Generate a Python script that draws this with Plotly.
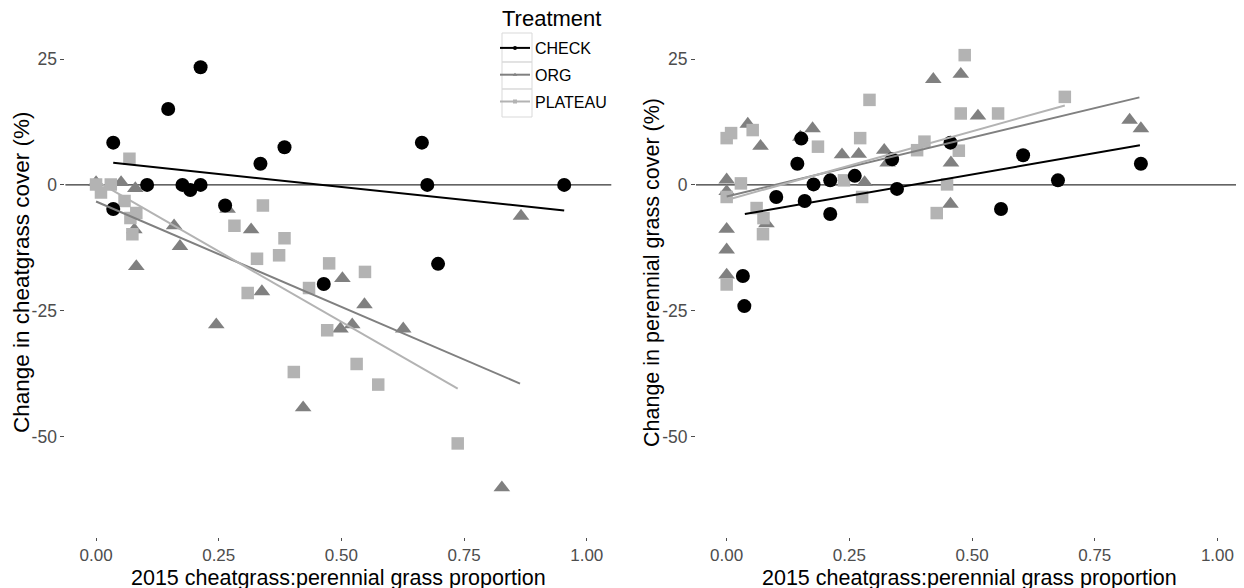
import plotly.graph_objects as go

W, H = 1244, 588
OFF = 8  # the page body adds an 8px margin around the figure


def fx(px):
    return (px - OFF) / W


def fy(py):
    return 1 - (py - OFF) / H


# ---- left panel: change in cheatgrass cover ----
cg_check_x = [0.035, 0.035, 0.104, 0.147, 0.176, 0.192, 0.213, 0.213, 0.263, 0.335, 0.384, 0.464, 0.664, 0.675, 0.697, 0.954]
cg_check_y = [8.4, -4.8, 0.0, 15.1, 0.0, -1.0, 0.0, 23.4, -4.1, 4.2, 7.5, -19.7, 8.4, 0.0, -15.7, 0.0]

cg_org_x = [0.000, 0.051, 0.080, 0.078, 0.082, 0.159, 0.171, 0.268, 0.316, 0.338, 0.502, 0.547, 0.866,
            0.245, 0.498, 0.522, 0.626, 0.422, 0.827]
cg_org_y = [0.5, 0.5, -0.7, -8.9, -16.2, -8.1, -12.2, -4.8, -8.9, -21.2, -18.6, -23.8, -6.2,
            -27.8, -28.6, -27.8, -28.6, -44.3, -60.2]

cg_plat_x = [0.068, 0.000, 0.030, 0.010, 0.058, 0.082, 0.070, 0.074, 0.282, 0.340, 0.384, 0.373, 0.328,
             0.475, 0.548, 0.434, 0.309, 0.471, 0.531, 0.403, 0.575, 0.737]
cg_plat_y = [5.2, 0.1, 0.1, -1.5, -3.2, -5.6, -6.6, -9.8, -8.1, -4.1, -10.6, -14.0, -14.7,
             -15.6, -17.3, -20.5, -21.5, -28.9, -35.6, -37.2, -39.7, -51.4]

# fitted lines (end points)
cg_fit = {
    "CHECK": ([0.035, 0.954], [4.4, -5.1]),
    "ORG": ([0.000, 0.864], [-3.3, -39.5]),
    "PLATEAU": ([0.000, 0.737], [0.8, -40.5]),
}

# ---- right panel: change in perennial grass cover ----
pg_check_x = [0.152, 0.144, 0.101, 0.159, 0.177, 0.211, 0.211, 0.261, 0.337, 0.347, 0.456, 0.559, 0.604, 0.675, 0.844, 0.033, 0.036]
pg_check_y = [9.2, 4.2, -2.4, -3.2, 0.1, 0.9, -5.8, 1.8, 5.1, -0.8, 8.4, -4.8, 5.9, 0.9, 4.2, -18.1, -24.1]

pg_org_x = [0.043, 0.069, 0.000, 0.000, 0.000, 0.000, 0.000, 0.081, 0.175, 0.150, 0.235, 0.269, 0.281,
            0.321, 0.328, 0.421, 0.477, 0.457, 0.456, 0.512, 0.821, 0.844]
pg_org_y = [12.1, 7.7, 1.0, -1.3, -8.8, -12.9, -17.9, -7.7, 11.2, 9.5, 6.0, 6.1, 0.5,
            6.9, 4.4, 21.0, 22.0, 4.4, -3.8, 13.7, 12.9, 11.2]

pg_plat_x = [0.000, 0.009, 0.053, 0.029, 0.000, 0.061, 0.075, 0.074, 0.000, 0.186, 0.272, 0.291, 0.239,
             0.276, 0.388, 0.403, 0.428, 0.449, 0.473, 0.477, 0.485, 0.553, 0.689]
pg_plat_y = [9.3, 10.3, 10.9, 0.3, -2.4, -4.6, -6.6, -9.8, -19.8, 7.6, 9.3, 16.9, 0.9,
             -2.4, 6.9, 8.6, -5.6, 0.1, 6.8, 14.2, 25.8, 14.2, 17.5]

pg_fit = {
    "CHECK": ([0.037, 0.842], [-5.8, 7.9]),
    "ORG": ([0.000, 0.841], [-2.3, 17.4]),
    "PLATEAU": ([0.000, 0.689], [-3.0, 15.8]),
}

x_ticks = [0, 0.25, 0.5, 0.75, 1.0]
x_ticktext = ["0.00", "0.25", "0.50", "0.75", "1.00"]
y_ticks = [-50, -25, 0, 25]
y_ticktext = ["-50", "-25", "0", "25"]

colors = {"CHECK": "#000000", "ORG": "#808080", "PLATEAU": "#b3b3b3"}
symbols = {"CHECK": "circle", "ORG": "triangle-up", "PLATEAU": "square"}
sizes = {"CHECK": 14, "ORG": 14.5, "PLATEAU": 12.5}

FONT = "Liberation Sans, Arial, sans-serif"
XRANGE = [-0.0625, 1.05]

fig = go.Figure()

panels = [
    ("x", "y", {"ORG": (cg_org_x, cg_org_y), "PLATEAU": (cg_plat_x, cg_plat_y),
                "CHECK": (cg_check_x, cg_check_y)}, cg_fit),
    ("x2", "y2", {"ORG": (pg_org_x, pg_org_y), "PLATEAU": (pg_plat_x, pg_plat_y),
                  "CHECK": (pg_check_x, pg_check_y)}, pg_fit),
]

for xa, ya, pts, fits in panels:
    for name in ["ORG", "PLATEAU", "CHECK"]:
        px, py = pts[name]
        fig.add_trace(go.Scatter(
            x=px, y=py, mode="markers", xaxis=xa, yaxis=ya, showlegend=False,
            marker=dict(symbol=symbols[name], size=sizes[name], color=colors[name],
                        line=dict(width=0)),
            hoverinfo="skip"))
    for name in ["CHECK", "ORG", "PLATEAU"]:
        lx, ly = fits[name]
        fig.add_trace(go.Scatter(
            x=lx, y=ly, mode="lines", xaxis=xa, yaxis=ya, showlegend=False,
            line=dict(color=colors[name], width=2), hoverinfo="skip"))

# legend-only entries
for name in ["CHECK", "ORG", "PLATEAU"]:
    fig.add_trace(go.Scatter(
        x=[None], y=[None], mode="lines+markers", name=name, legendgroup=name,
        line=dict(color=colors[name], width=2),
        marker=dict(symbol=symbols[name], size=4, color=colors[name])))


def x_axis(domain, anchor):
    return dict(domain=domain, range=XRANGE, anchor=anchor, tickvals=x_ticks, ticktext=x_ticktext,
                showgrid=False, zeroline=False, showline=False, ticks="outside",
                ticklen=3, tickwidth=1, tickcolor="#4d4d4d",
                tickfont=dict(family=FONT, size=17, color="#4d4d4d"))


def y_axis(domain, anchor):
    return dict(domain=domain, range=[-70, 30], anchor=anchor, tickvals=y_ticks,
                ticktext=y_ticktext,
                showgrid=False, zeroline=False, showline=False, ticks="outside",
                ticklen=4, tickwidth=1, tickcolor="#4d4d4d",
                tickfont=dict(family=FONT, size=17.5, color="#4d4d4d"))


ydom = [fy(537), fy(34)]
fig.update_layout(
    width=W, height=H,
    margin=dict(l=0, r=0, t=0, b=0),
    plot_bgcolor="white", paper_bgcolor="white",
    font=dict(family=FONT, color="black"),
    xaxis=x_axis([fx(65.4), fx(611.3)], "y"),
    yaxis=y_axis(ydom, "x"),
    xaxis2=x_axis([fx(696), fx(1242)], "y2"),
    yaxis2=y_axis(ydom, "x2"),
    legend=dict(x=fx(495), y=fy(31), xanchor="left", yanchor="top",
                bgcolor="rgba(0,0,0,0)", font=dict(size=16, color="black"),
                tracegroupgap=3, itemwidth=30),
)

# zero reference lines
for xa, ya in [("x", "y"), ("x2", "y2")]:
    fig.add_shape(type="line", xref=f"{xa} domain", yref=ya, x0=0, x1=1, y0=0, y1=0,
                  line=dict(color="black", width=1), layer="below")

# legend key boxes
for top, bot in [(33, 62), (62, 89), (89, 117)]:
    fig.add_shape(type="rect", xref="paper", yref="paper",
                  x0=fx(502), x1=fx(532), y0=fy(bot), y1=fy(top),
                  line=dict(color="#d9d9d9", width=1))

fig.add_annotation(x=fx(500), y=fy(19), xref="paper", yref="paper", showarrow=False,
                   xanchor="left", yanchor="middle", text="Treatment",
                   font=dict(size=22, color="black"))

xt_font = dict(size=21.5, color="black")
for cx, label in [(338, "2015 cheatgrass:perennial grass proportion"),
                  (969, "2015 cheatgrass:perennial grass proportion")]:
    fig.add_annotation(x=fx(cx), y=fy(578), xref="paper", yref="paper", showarrow=False,
                       xanchor="center", yanchor="middle", text=label, font=xt_font)
for cx, size, label in [(21, 22.5, "Change in cheatgrass cover (%)"),
                        (652, 21.5, "Change in perennial grass cover (%)")]:
    fig.add_annotation(x=fx(cx), y=fy(273), xref="paper", yref="paper", showarrow=False,
                       xanchor="center", yanchor="middle", text=label, textangle=-90,
                       font=dict(size=size, color="black"))

fig.write_html("out.html")
